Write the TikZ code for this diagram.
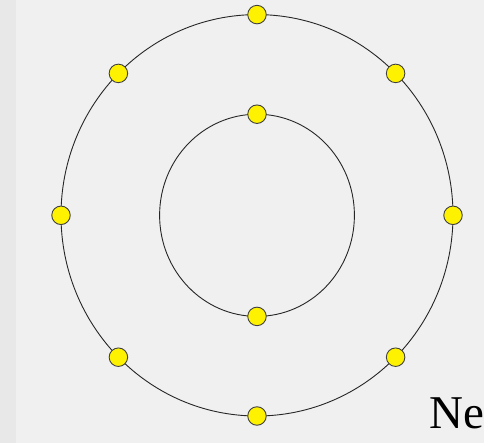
\documentclass[tikz,border=0pt]{standalone}
\usepackage{fontspec}
\setmainfont{Liberation Serif}
\begin{document}
\begin{tikzpicture}[x=1pt,y=-1pt,
  orbit/.style={draw=black!85,line width=0.9pt},
  electron/.style={circle,draw=black!75,fill=yellow,line width=0.9pt,minimum size=18.5pt,inner sep=0pt}]
\useasboundingbox (0,0) rectangle (484,443);
\fill[black!6] (0,0) rectangle (484,443);
\fill[black!9] (0,0) rectangle (16,443);
\coordinate (c) at (257,215.3);
\draw[orbit] (c) ellipse [x radius=196, y radius=200.7];
\draw[orbit] (c) ellipse [x radius=97.4, y radius=101.1];
% outer shell
\node[electron] (o1) at (257,14.6) {};
\node[electron] (o2) at (395.6,73.4) {};
\node[electron] (o3) at (453,215.3) {};
\node[electron] (o4) at (395.6,357.2) {};
\node[electron] (o5) at (257,416) {};
\node[electron] (o6) at (118.4,357.2) {};
\node[electron] (o7) at (61,215.3) {};
\node[electron] (o8) at (118.4,73.4) {};
% inner shell
\node[electron] (i1) at (257,114.2) {};
\node[electron] (i2) at (257,316.4) {};
\node[anchor=base west,inner sep=0pt,font=\fontsize{47}{47}\selectfont] (lbl) at (429,428) {Ne};
\end{tikzpicture}
\end{document}
